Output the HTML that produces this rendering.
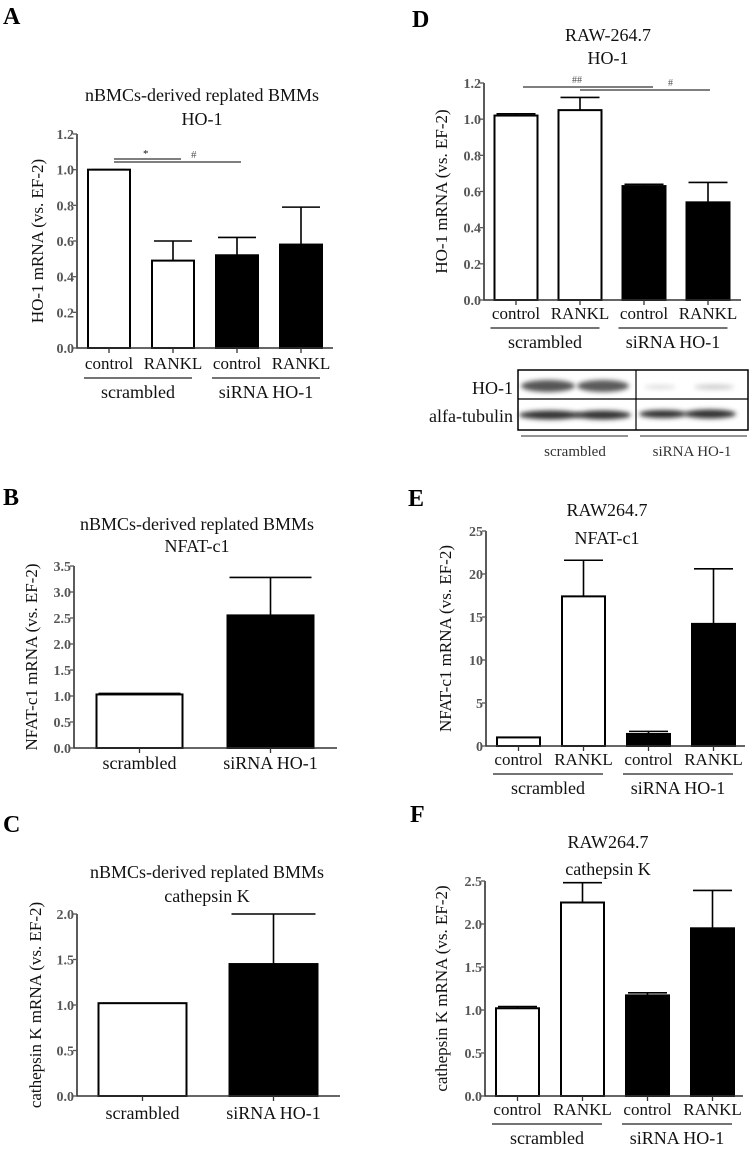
<!DOCTYPE html>
<html><head><meta charset="utf-8">
<style>
html,body{margin:0;padding:0;background:#fff;}
svg{display:block;font-family:"Liberation Serif",serif;}
</style></head>
<body>
<svg id="fig" width="750" height="1149" viewBox="0 0 750 1149" xmlns="http://www.w3.org/2000/svg">
<defs><filter id="blur" x="-20%" y="-100%" width="140%" height="300%"><feGaussianBlur stdDeviation="2.5"/></filter></defs>
</svg>
<script>
// ---- Data ----
const catsFour = ['control','RANKL','control','RANKL'];
const catsTwo = ['scrambled','siRNA HO-1'];
const groupsFour = ['scrambled','siRNA HO-1'];
const barFillFour = ['white','white','black','black'];
const barFillTwo = ['white','black'];

const valsA = [1.0, 0.49, 0.52, 0.58];
const errA  = [0.0, 0.11, 0.10, 0.21];
const ticksA = ['0.0','0.2','0.4','0.6','0.8','1.0','1.2'];

const valsB = [1.03, 2.55];
const errB  = [0.02, 0.73];
const ticksB = ['0.0','0.5','1.0','1.5','2.0','2.5','3.0','3.5'];

const valsC = [1.02, 1.45];
const errC  = [0.0, 0.55];
const ticksC = ['0.0','0.5','1.0','1.5','2.0'];

const valsD = [1.02, 1.05, 0.63, 0.54];
const errD  = [0.01, 0.07, 0.01, 0.11];
const ticksD = ['0.0','0.2','0.4','0.6','0.8','1.0','1.2'];

const valsE = [1.0, 17.4, 1.4, 14.2];
const errE  = [0.0, 4.2, 0.3, 6.4];
const ticksE = ['0','5','10','15','20','25'];

const valsF = [1.02, 2.25, 1.17, 1.95];
const errF  = [0.02, 0.23, 0.03, 0.44];
const ticksF = ['0.0','0.5','1.0','1.5','2.0','2.5'];

// ---- Helpers ----
const svg = document.getElementById('fig');
const NS = 'http://www.w3.org/2000/svg';
function mk(tag, attrs, parent){
  const e = document.createElementNS(NS, tag);
  for (const k in attrs) e.setAttribute(k, attrs[k]);
  (parent||svg).appendChild(e);
  return e;
}
function txt(s, x, y, size, opts, parent){
  const e = mk('text', Object.assign({x:x, y:y, 'font-size':size, fill:'#111'}, opts||{}), parent);
  e.textContent = s;
  return e;
}

function panel(p){
  const g = mk('g', {});
  
  
  const yMax = parseFloat(p.ticks[p.ticks.length-1]);
  const ys = v => p.y0 - (v / yMax) * (p.y0 - p.yTop);
  const xc = i => p.xL + (i + 0.5) * p.step;
  const L = txt(p.id, p.lx, p.ly, 24, {'font-weight':'bold','fill':'#000'}, g);
  
  
  p.title.forEach((t, k) => {
    const T = txt(t, p.tx, p.ty + k * p.tdy, 18, {'text-anchor':'middle'}, g);
    
    
  });
  p.vals.forEach((v, i) => {
    const x = xc(i) - p.bw / 2, y = ys(v);
    const r = mk('rect', {x:x, y:y, width:p.bw, height:p.y0 - y, fill:p.fills[i], stroke:'#000', 'stroke-width':2}, g);
    
    
    const top = ys(v + p.err[i]);
    if (p.err[i] > 0) {
      const eb = mk('path', {d:`M${xc(i)},${y} V${top} M${xc(i) - p.bw/2 + 2},${top} H${xc(i) + p.bw/2 - 2}`, stroke:'#000', 'stroke-width':1.6, fill:'none'}, g);
      
      
    } else {
      mk('path', {d:`M${xc(i) - p.bw/2 + 4},${y} H${xc(i) + p.bw/2 - 4}`, stroke:'#000', 'stroke-width':1.5}, g);
    }
    mk('line', {x1:xc(i), x2:xc(i), y1:p.y0, y2:p.y0 + 5, stroke:'#333', 'stroke-width':1.3}, g);
    const c = txt(p.cats[i], xc(i), p.y0 + p.catDy, p.catSize, {'text-anchor':'middle'}, g);
    
    
  });
  const ax = mk('path', {d:`M${p.xL},${p.yTop} V${p.y0} H${p.xEnd}`, stroke:'#333', 'stroke-width':1.6, fill:'none'}, g);
  
  
  p.ticks.forEach(t => {
    const y = ys(parseFloat(t));
    mk('line', {x1:p.xL - 4, x2:p.xL, y1:y, y2:y, stroke:'#555', 'stroke-width':1.3}, g);
    const tl = txt(t, p.xL - 3, y + 5, 14, {'text-anchor':'end', fill:'#555', 'font-weight':'bold'}, g);
    
    
  });
  const ym = (p.y0 + p.yTop) / 2;
  const yt = txt(p.yTitle, p.ytx, ym, 17, {'text-anchor':'middle', transform:`rotate(-90 ${p.ytx} ${ym})`}, g);
  
  
  if (p.groups) {
    p.groups.forEach((gname, k) => {
      const a = xc(2*k) - p.bw/2 - 4, b = xc(2*k+1) + p.bw/2 - 2;
      mk('line', {x1:a, x2:b, y1:p.y0 + p.catDy + 9, y2:p.y0 + p.catDy + 9, stroke:'#222', 'stroke-width':1.3}, g);
      const gl = txt(gname, (a + b) / 2, p.y0 + p.catDy + 29, 18, {'text-anchor':'middle'}, g);
      
      
    });
  }
  return {g, xc, ys};
}

const pA = panel({id:'A', lx:3, ly:24, title:['nBMCs-derived replated BMMs','HO-1'], tx:202, ty:101, tdy:24,
  vals:valsA, err:errA, ticks:ticksA, cats:catsFour, fills:barFillFour, groups:groupsFour,
  xL:77, xEnd:333, step:64, bw:42, y0:348, yTop:134, catDy:21, catSize:17, ytx:43, yTitle:'HO-1 mRNA (vs. EF-2)'});
mk('path', {d:`M${pA.xc(0)+5},159 H${pA.xc(1)+8} M${pA.xc(0)+5},162 H${pA.xc(2)+4}`, stroke:'#333', 'stroke-width':1.2, fill:'none'});
txt('*', 143, 157, 11); txt('#', 191, 158, 11, {fill:'#555'});

const pB = panel({id:'B', lx:3, ly:505, title:['nBMCs-derived replated BMMs','NFAT-c1'], tx:197, ty:530, tdy:22,
  vals:valsB, err:errB, ticks:ticksB, cats:catsTwo, fills:barFillTwo,
  xL:74, xEnd:337, step:131, bw:86, y0:748, yTop:566, catDy:21, catSize:18, ytx:37, yTitle:'NFAT-c1 mRNA (vs. EF-2)'});

const pC = panel({id:'C', lx:3, ly:832, title:['nBMCs-derived replated BMMs','cathepsin K'], tx:207, ty:878, tdy:24,
  vals:valsC, err:errC, ticks:ticksC, cats:catsTwo, fills:barFillTwo,
  xL:77, xEnd:340, step:131, bw:88, y0:1096, yTop:914, catDy:23, catSize:18, ytx:41, yTitle:'cathepsin K mRNA (vs. EF-2)'});

const pD = panel({id:'D', lx:412, ly:27, title:['RAW-264.7','HO-1'], tx:608, ty:41, tdy:23,
  vals:valsD, err:errD, ticks:ticksD, cats:catsFour, fills:barFillFour, groups:groupsFour,
  xL:484, xEnd:741, step:64, bw:43, y0:300, yTop:83, catDy:19, catSize:17, ytx:447, yTitle:'HO-1 mRNA (vs. EF-2)'});
mk('path', {d:`M523,87 H653 M580,90 H710`, stroke:'#333', 'stroke-width':1.2, fill:'none'});
txt('##', 572, 83, 10, {fill:'#555'}); txt('#', 668, 86, 10, {fill:'#555'});

const pE = panel({id:'E', lx:408, ly:506, title:['RAW264.7','NFAT-c1'], tx:607, ty:516, tdy:28,
  vals:valsE, err:errE, ticks:ticksE, cats:catsFour, fills:barFillFour, groups:groupsFour,
  xL:486, xEnd:745, step:65, bw:43, y0:746, yTop:531, catDy:19, catSize:17, ytx:451, yTitle:'NFAT-c1 mRNA (vs. EF-2)'});

const pF = panel({id:'F', lx:410, ly:822, title:['RAW264.7','cathepsin K'], tx:608, ty:848, tdy:27,
  vals:valsF, err:errF, ticks:ticksF, cats:catsFour, fills:barFillFour, groups:groupsFour,
  xL:485, xEnd:743, step:65, bw:43, y0:1096, yTop:881, catDy:19, catSize:17, ytx:447, yTitle:'cathepsin K mRNA (vs. EF-2)'});

// ---- Western blot ----
const wb = mk('g', {});


mk('ellipse', {cx:548, cy:386, rx:27, ry:6, fill:'#555', filter:'url(#blur)'}, wb);
mk('ellipse', {cx:603, cy:386, rx:26, ry:6, fill:'#5a5a5a', filter:'url(#blur)'}, wb);
mk('ellipse', {cx:660, cy:387, rx:16, ry:2, fill:'#ddd', filter:'url(#blur)'}, wb);
mk('ellipse', {cx:714, cy:387, rx:20, ry:2.5, fill:'#ccc', filter:'url(#blur)'}, wb);
mk('ellipse', {cx:550, cy:415, rx:31, ry:4.5, fill:'#333', filter:'url(#blur)'}, wb);
mk('ellipse', {cx:603, cy:415, rx:28, ry:4.5, fill:'#333', filter:'url(#blur)'}, wb);
mk('ellipse', {cx:663, cy:414, rx:24, ry:4, fill:'#333', filter:'url(#blur)'}, wb);
mk('ellipse', {cx:710, cy:414, rx:26, ry:4.5, fill:'#333', filter:'url(#blur)'}, wb);
mk('rect', {x:518, y:370, width:230, height:60, fill:'none', stroke:'#000', 'stroke-width':1.5}, wb);
mk('line', {x1:518, x2:748, y1:399, y2:399, stroke:'#000', 'stroke-width':1.2}, wb);
mk('line', {x1:636, x2:636, y1:370, y2:430, stroke:'#000', 'stroke-width':1.2}, wb);
txt('HO-1', 513, 394, 18, {'text-anchor':'end'}, wb);
txt('alfa-tubulin', 513, 422, 18, {'text-anchor':'end'}, wb);
mk('line', {x1:521, x2:628, y1:436, y2:436, stroke:'#555', 'stroke-width':1.2}, wb);
mk('line', {x1:640, x2:747, y1:436, y2:436, stroke:'#555', 'stroke-width':1.2}, wb);
txt('scrambled', 575, 456, 15, {'text-anchor':'middle', fill:'#333'}, wb);
txt('siRNA HO-1', 692, 456, 15, {'text-anchor':'middle', fill:'#333'}, wb);
</script>
</body></html>
